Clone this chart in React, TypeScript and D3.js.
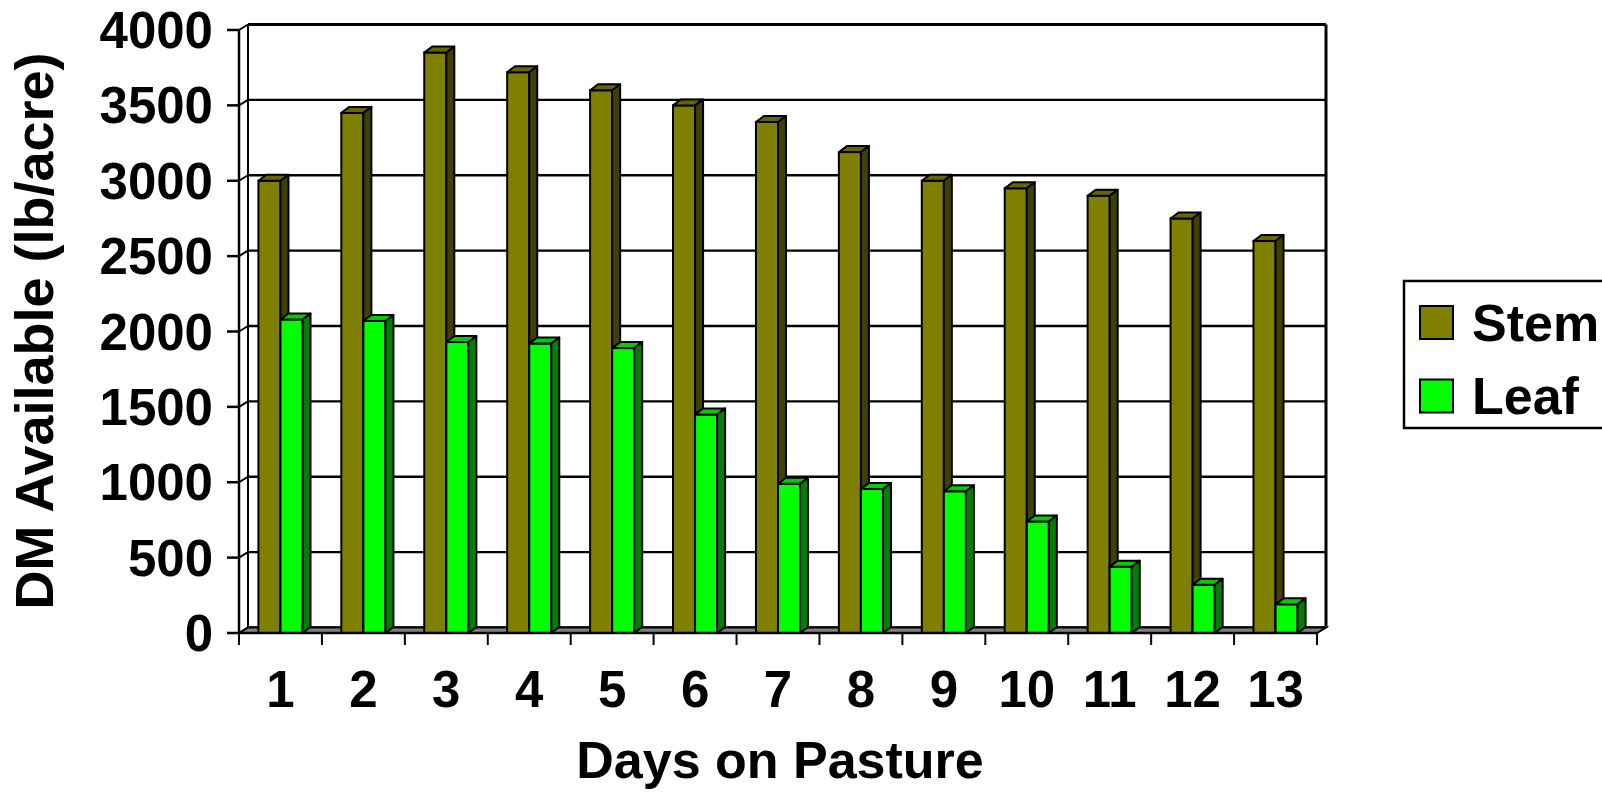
import React, { useRef, useEffect } from 'react'
import * as d3 from 'd3'

const days = ['1', '2', '3', '4', '5', '6', '7', '8', '9', '10', '11', '12', '13']
const stem = [3000, 3450, 3850, 3720, 3600, 3500, 3390, 3190, 3000, 2950, 2900, 2750, 2600]
const leaf = [2080, 2070, 1930, 1920, 1890, 1450, 990, 955, 940, 740, 440, 320, 190]
const yTicks = [0, 500, 1000, 1500, 2000, 2500, 3000, 3500, 4000]
const seriesNames = ['Stem', 'Leaf']

const colors = {
  Stem: { front: '#808000', top: '#666600', side: '#404000' },
  Leaf: { front: '#00FF00', top: '#00CC00', side: '#008000' },
}

const FONT = "'Liberation Sans', Arial, Helvetica, sans-serif"

const App = () => {
  const svgRef = useRef(null)

  useEffect(() => {
    const svg = d3.select(svgRef.current)
    svg.selectAll('*').remove()

    // front plane of the 3d box
    const left = 239
    const right = 1317
    const y0 = 633
    const y1 = 30
    // depth of the walls and of the bars
    const dx = 9
    const dy = -5.5
    const bdx = 8
    const bdy = -6

    const x = d3.scaleBand().domain(days).range([left, right]).padding(0)
    const inner = d3
      .scaleBand()
      .domain(seriesNames)
      .range([0, x.bandwidth()])
      .paddingInner(0)
      .paddingOuter(0.88)
    const y = d3.scaleLinear().domain([0, 4000]).range([y0, y1])

    const g = svg.append('g')

    // back wall
    g.append('rect')
      .attr('x', left + dx)
      .attr('y', y(4000) + dy)
      .attr('width', right - left)
      .attr('height', y(0) - y(4000))
      .attr('fill', '#ffffff')

    // gridlines on back wall and left wall
    yTicks.forEach((t) => {
      g.append('line')
        .attr('x1', left + dx)
        .attr('x2', right + dx)
        .attr('y1', y(t) + dy)
        .attr('y2', y(t) + dy)
        .attr('stroke', '#000')
        .attr('stroke-width', t === 4000 ? 3 : 2.4)
      g.append('line')
        .attr('x1', left)
        .attr('x2', left + dx)
        .attr('y1', y(t))
        .attr('y2', y(t) + dy)
        .attr('stroke', '#000')
        .attr('stroke-width', 2)
    })

    // wall edges
    g.append('line')
      .attr('x1', left + dx)
      .attr('x2', left + dx)
      .attr('y1', y(4000) + dy)
      .attr('y2', y(0) + dy)
      .attr('stroke', '#000')
      .attr('stroke-width', 2)
    g.append('line')
      .attr('x1', right + dx)
      .attr('x2', right + dx)
      .attr('y1', y(4000) + dy)
      .attr('y2', y(0) + dy)
      .attr('stroke', '#000')
      .attr('stroke-width', 3)

    // floor
    g.append('polygon')
      .attr(
        'points',
        [
          [left, y0],
          [left + dx, y0 + dy],
          [right + dx, y0 + dy],
          [right, y0],
        ].join(' '),
      )
      .attr('fill', '#808080')
      .attr('stroke', '#000')
      .attr('stroke-width', 2)

    // bars
    days.forEach((d, i) => {
      seriesNames.forEach((s) => {
        const v = s === 'Stem' ? stem[i] : leaf[i]
        const c = colors[s]
        const bx = x(d) + inner(s)
        const w = inner.bandwidth()
        const yv = y(v)
        const bar = g.append('g')
        bar
          .append('rect')
          .attr('x', bx)
          .attr('y', yv)
          .attr('width', w)
          .attr('height', y0 - yv)
          .attr('fill', c.front)
          .attr('stroke', '#000')
          .attr('stroke-width', 2)
        bar
          .append('polygon')
          .attr(
            'points',
            [
              [bx, yv],
              [bx + bdx, yv + bdy],
              [bx + w + bdx, yv + bdy],
              [bx + w, yv],
            ].join(' '),
          )
          .attr('fill', c.top)
          .attr('stroke', '#000')
          .attr('stroke-width', 2)
          .attr('stroke-linejoin', 'round')
        bar
          .append('polygon')
          .attr(
            'points',
            [
              [bx + w, yv],
              [bx + w + bdx, yv + bdy],
              [bx + w + bdx, y0 + bdy],
              [bx + w, y0],
            ].join(' '),
          )
          .attr('fill', c.side)
          .attr('stroke', '#000')
          .attr('stroke-width', 2)
          .attr('stroke-linejoin', 'round')
      })
    })

    // front y axis
    g.append('line')
      .attr('x1', left)
      .attr('x2', left)
      .attr('y1', y(4000))
      .attr('y2', y0)
      .attr('stroke', '#000')
      .attr('stroke-width', 2.5)
    yTicks.forEach((t) => {
      g.append('line')
        .attr('x1', left - 12)
        .attr('x2', left)
        .attr('y1', y(t))
        .attr('y2', y(t))
        .attr('stroke', '#000')
        .attr('stroke-width', 2.5)
      g.append('text')
        .attr('x', 213)
        .attr('y', y(t) + 18)
        .attr('text-anchor', 'end')
        .attr('font-family', FONT)
        .attr('font-weight', 'bold')
        .attr('font-size', 51)
        .text(t)
    })

    // x axis
    g.append('line')
      .attr('x1', left)
      .attr('x2', right)
      .attr('y1', y0)
      .attr('y2', y0)
      .attr('stroke', '#000')
      .attr('stroke-width', 2.5)
    const bounds = days.map((d) => x(d)).concat([right])
    bounds.forEach((bx) => {
      g.append('line')
        .attr('x1', bx)
        .attr('x2', bx)
        .attr('y1', y0)
        .attr('y2', y0 + 12)
        .attr('stroke', '#000')
        .attr('stroke-width', 2)
    })
    days.forEach((d) => {
      g.append('text')
        .attr('x', x(d) + x.bandwidth() / 2)
        .attr('y', 707)
        .attr('text-anchor', 'middle')
        .attr('font-family', FONT)
        .attr('font-weight', 'bold')
        .attr('font-size', 51)
        .text(d)
    })

    // axis titles
    g.append('text')
      .attr('x', 780)
      .attr('y', 778)
      .attr('text-anchor', 'middle')
      .attr('font-family', FONT)
      .attr('font-weight', 'bold')
      .attr('font-size', 52)
      .text('Days on Pasture')
    g.append('text')
      .attr('transform', 'translate(53,331) rotate(-90)')
      .attr('text-anchor', 'middle')
      .attr('font-family', FONT)
      .attr('font-weight', 'bold')
      .attr('font-size', 54)
      .text('DM Available (lb/acre)')

    // legend
    const lg = g.append('g')
    lg.append('rect')
      .attr('x', 1404)
      .attr('y', 281)
      .attr('width', 210)
      .attr('height', 147)
      .attr('fill', '#fff')
      .attr('stroke', '#000')
      .attr('stroke-width', 2.5)
    seriesNames.forEach((s, i) => {
      lg.append('rect')
        .attr('x', 1420)
        .attr('y', 306 + i * 73.5)
        .attr('width', 33)
        .attr('height', 33)
        .attr('fill', colors[s].front)
        .attr('stroke', '#000')
        .attr('stroke-width', 2)
      lg.append('text')
        .attr('x', 1472)
        .attr('y', 341 + i * 73)
        .attr('font-family', FONT)
        .attr('font-weight', 'bold')
        .attr('font-size', 52)
        .text(s)
    })
  }, [])

  return (
    <div style={{ position: 'absolute', left: 0, top: 0, width: 1602, height: 802, overflow: 'hidden', background: '#fff' }}>
      <svg ref={svgRef} width={1602} height={802} style={{ display: 'block' }} />
    </div>
  )
}

export default App
